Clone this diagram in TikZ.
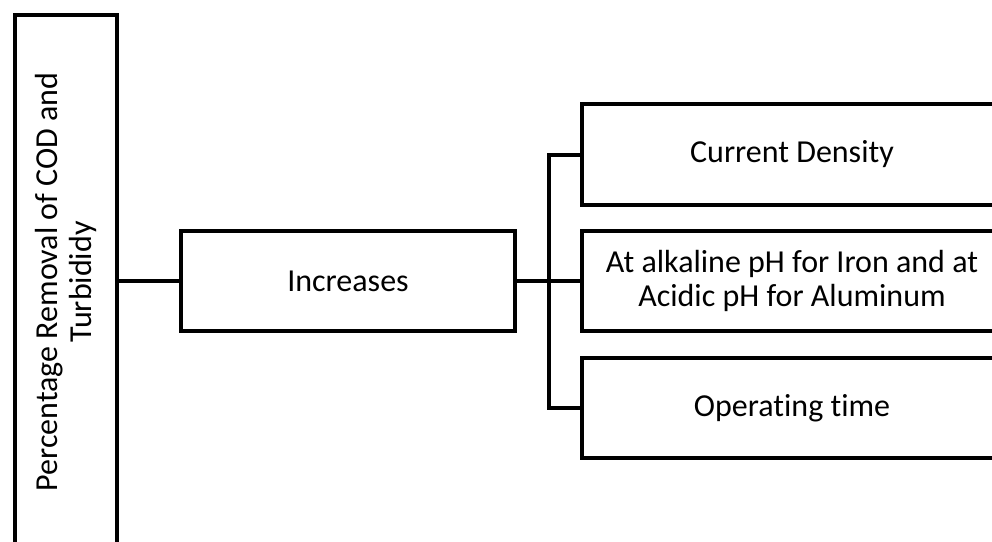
\documentclass[tikz,border=0pt]{standalone}
\usepackage{fontspec}
\setmainfont{Carlito}[Ligatures={NoCommon}]
\begin{document}
\begin{tikzpicture}[x=0.75pt,y=-0.75pt,
  box/.style={draw=black,line width=3pt,fill=white,rectangle,inner sep=0pt,align=center,
    font=\fontsize{24}{25.5}\selectfont},
  conn/.style={draw=black,line width=3pt}]
\useasboundingbox (0,0) rectangle (992,542);
\clip (0,0) rectangle (992,542);
\node[box,minimum width=534*0.75pt,minimum height=102*0.75pt,rotate=90] (pr) at (66,282) {Percentage Removal of COD and\\Turbididy};
\node[box,minimum width=334*0.75pt,minimum height=100*0.75pt] (inc) at (348,281) {Increases};
\node[box,minimum width=420*0.75pt,minimum height=101*0.75pt] (cd) at (792,154.5) {Current Density};
\node[box,minimum width=420*0.75pt,minimum height=100*0.75pt] (ph) at (792,281) {At alkaline pH for Iron and at\\Acidic pH for Aluminum};
\node[box,minimum width=420*0.75pt,minimum height=100*0.75pt] (op) at (792,408) {Operating time};
\coordinate (bus) at (549,281);
\draw[conn] (pr.south |- inc.west) -- (inc.west);
\draw[conn] (inc.east) -- (bus);
\draw[conn] (bus) |- (cd.west);
\draw[conn] (bus) |- (op.west);
\draw[conn] (bus) -- (ph.west);
\end{tikzpicture}
\end{document}
